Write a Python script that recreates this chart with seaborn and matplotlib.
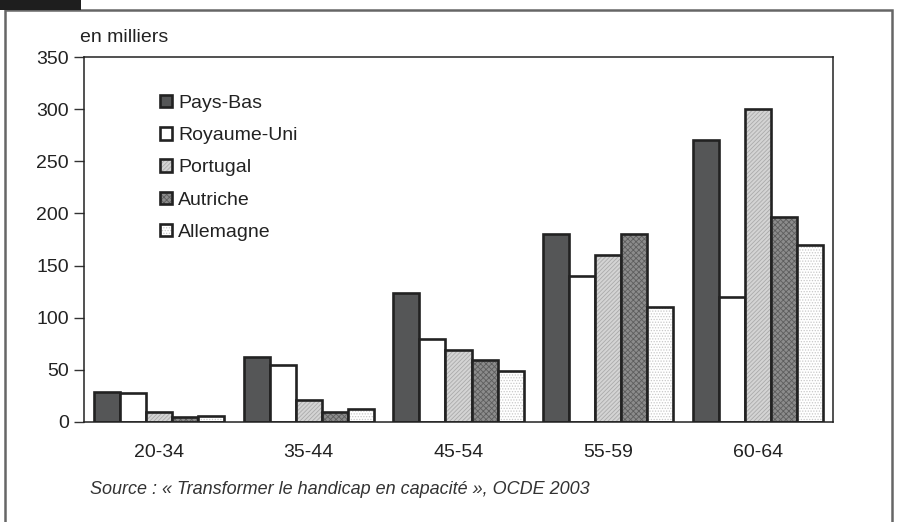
import numpy as np
import pandas as pd
import seaborn as sns
import matplotlib.pyplot as plt
from matplotlib.patches import Patch, Rectangle
from matplotlib.colors import to_rgba

groups = ["20-34", "35-44", "45-54", "55-59", "60-64"]
countries = ["Pays-Bas", "Royaume-Uni", "Portugal", "Autriche", "Allemagne"]
pays_bas = [29, 62, 124, 180, 270]
royaume_uni = [28, 55, 80, 140, 120]
portugal = [10, 21, 69, 160, 300]
autriche = [5, 10, 59, 180, 197]
allemagne = [6, 12, 49, 110, 170]

df = pd.DataFrame({
    "age": groups * 5,
    "pays": np.repeat(countries, 5),
    "val": pays_bas + royaume_uni + portugal + autriche + allemagne,
})

sns.set_style("white")
plt.rcParams["font.family"] = ["Liberation Sans", "DejaVu Sans"]
plt.rcParams["hatch.linewidth"] = 0.6

faces = ["#555657", "#ffffff", "#d4d4d4", "#8c8c8c", "#ffffff"]
hatches = [None, None, "////////", "xxxxxx", "......"]
hcols = [None, None, "#ababab", "#5e5e5e", "#c8c8c8"]
edge = "#222222"

fig = plt.figure(figsize=(8.99, 5.22), dpi=100)
ax = fig.add_axes([84 / 899, 1 - 422 / 522, 749 / 899, 365 / 522])

sns.barplot(data=df, x="age", y="val", hue="pays", order=groups, hue_order=countries,
            palette=faces, width=0.87, edgecolor=edge, linewidth=1.9,
            saturation=1, legend=False, ax=ax)

# hachures grises, bord noir
for cont, h, hc in zip(ax.containers, hatches, hcols):
    for p in cont:
        if h:
            p.set_hatch(h)
            p._hatch_color = to_rgba(hc)

ax.set_ylim(0, 350)
ax.set_yticks(range(0, 351, 50))
ax.set_xlabel("")
ax.set_ylabel("")
for s in ax.spines.values():
    s.set_visible(True)
    s.set_color("#222222")
    s.set_linewidth(1.1)
ax.tick_params(axis="y", direction="out", length=7, width=1, color="#333333",
               labelsize=14, labelcolor="#222222", pad=4, left=True)
ax.tick_params(axis="x", length=0, labelsize=14, labelcolor="#222222", pad=16)

handles = []
for f, h, hc in zip(faces, hatches, hcols):
    p = Patch(facecolor=f, edgecolor=edge, linewidth=1.9, hatch=h)
    if h:
        p._hatch_color = to_rgba(hc)
    handles.append(p)
ax.legend(handles, countries, loc="upper left", bbox_to_anchor=(0.102, 0.897),
          frameon=False, fontsize=14, labelspacing=0.78, handlelength=0.62,
          handleheight=0.62, handletextpad=0.3, borderpad=0, borderaxespad=0,
          labelcolor="#222222")

fig.text(80 / 899, 1 - 38 / 522, "en milliers", fontsize=14, color="#222222", va="center")
fig.text(90 / 899, 1 - 489 / 522, "Source : « Transformer le handicap en capacité », OCDE 2003",
         fontsize=13, style="italic", color="#333333", va="center")

fig.patches.append(Rectangle((5 / 899, -0.05), 887 / 899, 1.05 - 10 / 522,
                             transform=fig.transFigure, fill=False,
                             edgecolor="#666666", linewidth=1.8))
fig.patches.append(Rectangle((0, 1 - 10 / 522), 81 / 899, 10 / 522,
                             transform=fig.transFigure, facecolor="#1e1e1e",
                             edgecolor="none"))

fig.savefig("out.png", dpi=100)
